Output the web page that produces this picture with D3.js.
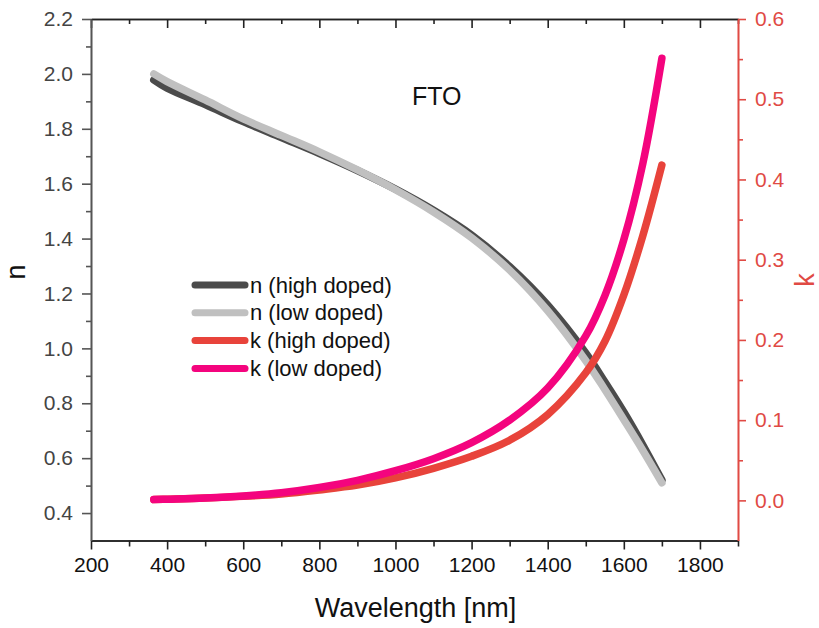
<!DOCTYPE html>
<html>
<head>
<meta charset="utf-8">
<script src="https://cdn.jsdelivr.net/npm/d3@7"></script>
<style>
  html, body { margin: 0; padding: 0; background: #fff; }
  svg { display: block; font-family: "Liberation Sans", Arial, sans-serif; }
</style>
</head>
<body>
<div id="chart"></div>
<script>
// ── Data ────────────────────────────────────────────────
var wavelength = [365, 400, 500, 600, 700, 800, 900, 1000, 1100, 1200, 1300, 1400, 1500, 1550, 1600, 1650, 1700];
var nHigh = [1.978, 1.948, 1.888, 1.826, 1.768, 1.71, 1.648, 1.58, 1.503, 1.413, 1.298, 1.158, 0.983, 0.878, 0.768, 0.648, 0.52];
var nLow  = [2.000, 1.972, 1.905, 1.836, 1.776, 1.716, 1.65, 1.578, 1.497, 1.403, 1.285, 1.137, 0.955, 0.85, 0.74, 0.628, 0.51];
var kHigh = [0.001, 0.0015, 0.003, 0.005, 0.008, 0.013, 0.019, 0.028, 0.040, 0.055, 0.075, 0.107, 0.159, 0.198, 0.256, 0.33, 0.418];
var kLow  = [0.001, 0.0015, 0.003, 0.0055, 0.0095, 0.016, 0.025, 0.037, 0.052, 0.072, 0.100, 0.14, 0.205, 0.255, 0.325, 0.42, 0.551];

var xMajor = [200, 400, 600, 800, 1000, 1200, 1400, 1600, 1800];
var xMinor = [300, 500, 700, 900, 1100, 1300, 1500, 1700, 1900];
var nMajor = [0.4, 0.6, 0.8, 1.0, 1.2, 1.4, 1.6, 1.8, 2.0, 2.2];
var nMinor = [0.5, 0.7, 0.9, 1.1, 1.3, 1.5, 1.7, 1.9, 2.1];
var kMajor = [0.0, 0.1, 0.2, 0.3, 0.4, 0.5, 0.6];
var kMinor = [0.05, 0.15, 0.25, 0.35, 0.45, 0.55];

var seriesList = [
  { name: "n (high doped)", values: nHigh, axis: "n", color: "#4b4b4b" },
  { name: "n (low doped)",  values: nLow,  axis: "n", color: "#c0c0c0" },
  { name: "k (high doped)", values: kHigh, axis: "k", color: "#e8433b" },
  { name: "k (low doped)",  values: kLow,  axis: "k", color: "#f4047e" }
];

// ── Layout ──────────────────────────────────────────────
var W = 819, H = 628;
var margin = { top: 19, right: 81, bottom: 87.5, left: 91 };
var iW = W - margin.left - margin.right;
var iH = H - margin.top - margin.bottom;
var kColor = "#e04a44";

var svg = d3.select("#chart").append("svg").attr("width", W).attr("height", H);
var g = svg.append("g").attr("transform", "translate(" + margin.left + "," + margin.top + ")");

var x = d3.scaleLinear().domain([200, 1900]).range([0, iW]);
var yN = d3.scaleLinear().domain([0.3, 2.2]).range([iH, 0]);
var yK = d3.scaleLinear().domain([-0.05, 0.6]).range([iH, 0]);

function styleAxis(sel, color, textColor) {
  sel.select(".domain").attr("stroke", color).attr("stroke-width", 1.6);
  sel.selectAll(".tick line").attr("stroke", color).attr("stroke-width", 1.6);
  sel.selectAll(".tick text").attr("fill", textColor).attr("font-size", 21);
}

// bottom
var gxMin = g.append("g").attr("transform", "translate(0," + iH + ")")
  .call(d3.axisBottom(x).tickValues(xMinor).tickFormat("").tickSizeInner(6).tickSizeOuter(0));
styleAxis(gxMin, "#222", "#111");
var gx = g.append("g").attr("transform", "translate(0," + iH + ")")
  .call(d3.axisBottom(x).tickValues(xMajor).tickFormat(d3.format("d")).tickSizeInner(9).tickSizeOuter(0).tickPadding(8));
styleAxis(gx, "#222", "#111");

// top (ticks pointing in)
var gtMin = g.append("g")
  .call(d3.axisTop(x).tickValues(xMinor).tickFormat("").tickSizeInner(-5).tickSizeOuter(0));
styleAxis(gtMin, "#222", "#111");
var gt = g.append("g")
  .call(d3.axisTop(x).tickValues(xMajor).tickFormat("").tickSizeInner(-9).tickSizeOuter(0));
styleAxis(gt, "#222", "#111");

// left (n)
var gyMin = g.append("g")
  .call(d3.axisLeft(yN).tickValues(nMinor).tickFormat("").tickSizeInner(5).tickSizeOuter(0));
styleAxis(gyMin, "#555", "#444");
var gy = g.append("g")
  .call(d3.axisLeft(yN).tickValues(nMajor).tickFormat(d3.format(".1f")).tickSizeInner(9).tickSizeOuter(0).tickPadding(9));
styleAxis(gy, "#555", "#444");

// right (k)
var gkMin = g.append("g").attr("transform", "translate(" + iW + ",0)")
  .call(d3.axisRight(yK).tickValues(kMinor).tickFormat("").tickSizeInner(5).tickSizeOuter(0));
styleAxis(gkMin, kColor, kColor);
var gk = g.append("g").attr("transform", "translate(" + iW + ",0)")
  .call(d3.axisRight(yK).tickValues(kMajor).tickFormat(d3.format(".1f")).tickSizeInner(8).tickSizeOuter(0).tickPadding(9));
styleAxis(gk, kColor, kColor);

// ── Curves ──────────────────────────────────────────────
seriesList.forEach(function (s) {
  var yS = s.axis === "n" ? yN : yK;
  var line = d3.line()
    .x(function (d, i) { return x(wavelength[i]); })
    .y(function (d) { return yS(d); })
    .curve(d3.curveCatmullRom.alpha(0.5));
  g.append("path")
    .datum(s.values)
    .attr("fill", "none")
    .attr("stroke", s.color)
    .attr("stroke-width", 7.5)
    .attr("stroke-linecap", "round")
    .attr("stroke-linejoin", "round")
    .attr("d", line);
});

// ── Legend ──────────────────────────────────────────────
var legend = svg.append("g").attr("transform", "translate(192,285)");
seriesList.forEach(function (s, i) {
  var row = legend.append("g").attr("transform", "translate(0," + (i * 27.8) + ")");
  row.append("line")
    .attr("x1", 3).attr("x2", 53).attr("y1", 0).attr("y2", 0)
    .attr("stroke", s.color).attr("stroke-width", 7).attr("stroke-linecap", "round");
  row.append("text")
    .attr("x", 58).attr("y", 7.5)
    .attr("font-size", 22).attr("fill", "#111")
    .text(s.name);
});

// ── Labels ──────────────────────────────────────────────
svg.append("text")
  .attr("x", 412).attr("y", 105)
  .attr("font-size", 25).attr("fill", "#111")
  .text("FTO");

svg.append("text")
  .attr("x", margin.left + iW / 2 + 1).attr("y", 617)
  .attr("text-anchor", "middle")
  .attr("font-size", 27).attr("fill", "#111")
  .text("Wavelength [nm]");

svg.append("text")
  .attr("transform", "translate(25,272) rotate(-90)")
  .attr("text-anchor", "middle")
  .attr("font-size", 27).attr("fill", "#111")
  .text("n");

svg.append("text")
  .attr("transform", "translate(814,280) rotate(-90)")
  .attr("text-anchor", "middle")
  .attr("font-size", 27).attr("fill", kColor)
  .text("k");
</script>
</body>
</html>
